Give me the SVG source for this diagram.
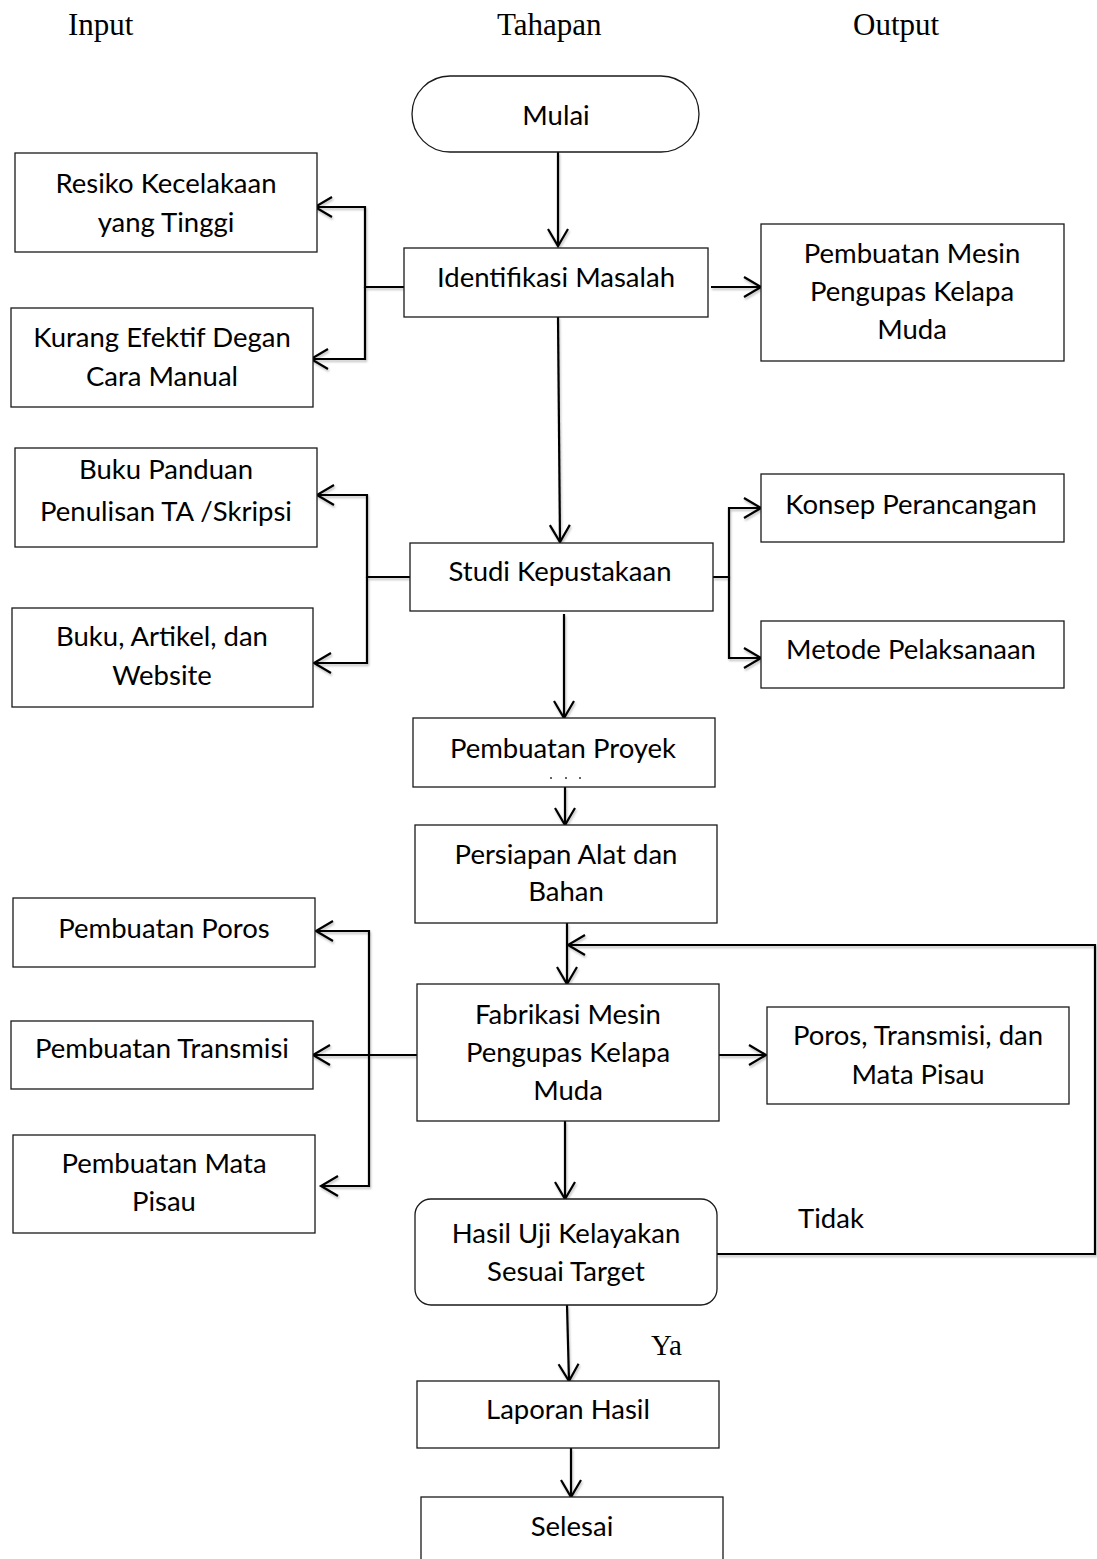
<svg xmlns="http://www.w3.org/2000/svg" width="1097" height="1559" viewBox="0 0 1097 1559">
<defs>
<style>
.box{fill:#fff;stroke:#1a1a1a;stroke-width:1.3}
.t{font-family:Lato,"Open Sans","Liberation Sans",sans-serif;font-size:27.5px;fill:#000;text-anchor:middle}
.h{font-family:"Liberation Serif","Times New Roman",serif;font-size:31px;fill:#000}
.c{fill:none;stroke:#000;stroke-width:2.2;stroke-linejoin:miter}
.a{marker-end:url(#arr)}
</style>
<marker id="arr" markerUnits="userSpaceOnUse" markerWidth="22" markerHeight="24" viewBox="0 0 22 24" refX="19" refY="12" orient="auto">
<path d="M2,2 L19,12 L2,22" fill="none" stroke="#000" stroke-width="2.2"/>
</marker>
<filter id="sh" x="-5%" y="-5%" width="110%" height="110%">
<feDropShadow dx="1" dy="2" stdDeviation="1.2" flood-color="#000" flood-opacity="0.25"/>
</filter>
</defs>
<rect width="1097" height="1559" fill="#fff"/>

<g id="headers">
<text class="h" x="68" y="35">Input</text>
<text class="h" x="497" y="35">Tahapan</text>
<text class="h" x="853" y="35">Output</text>
</g>

<g id="connectors" filter="url(#sh)">
<path class="c a" d="M558,152 L558,246"/>
<path class="c a" d="M711,287 L761,287"/>
<path class="c a" d="M404,287 H365 V207 H315"/>
<path class="c a" d="M365,287 V359 H311"/>
<path class="c a" d="M558,317 L560,542"/>
<path class="c a" d="M410,577 H367 V495 H317"/>
<path class="c a" d="M367,577 V663 H314"/>
<path class="c a" d="M713,577 H729 V508 H761"/>
<path class="c a" d="M729,577 V658 H761"/>
<path class="c a" d="M564,614 L564,718"/>
<path class="c a" d="M565,787 L565,825"/>
<path class="c a" d="M567,923 L567,984"/>
<path class="c a" d="M717,1254 H1095 V945 H568"/>
<path class="c a" d="M719,1055 H766"/>
<path class="c a" d="M417,1055 H313"/>
<path class="c a" d="M369,1055 V931 H316"/>
<path class="c a" d="M369,1055 V1186 H321"/>
<path class="c a" d="M565,1121 L565,1199"/>
<path class="c a" d="M567,1305 L569,1381"/>
<path class="c a" d="M571,1448 L571,1497"/>
</g>

<g id="mulai"><rect class="box" x="412" y="76" width="287" height="76" rx="38" ry="38"/><text class="t" x="556" y="125">Mulai</text></g>
<g id="identifikasi"><rect class="box" x="404" y="248" width="304" height="69"/><text class="t" x="556" y="287">Identifikasi Masalah</text></g>
<g id="out-mesin"><rect class="box" x="761" y="224" width="303" height="137"/><text class="t" x="912" y="263">Pembuatan Mesin</text><text class="t" x="912" y="301">Pengupas Kelapa</text><text class="t" x="912" y="339">Muda</text></g>
<g id="in-resiko"><rect class="box" x="15" y="153" width="302" height="99"/><text class="t" x="166" y="193">Resiko Kecelakaan</text><text class="t" x="166" y="232">yang Tinggi</text></g>
<g id="in-kurang"><rect class="box" x="11" y="308" width="302" height="99"/><text class="t" x="162" y="347">Kurang Efektif Degan</text><text class="t" x="162" y="386">Cara Manual</text></g>
<g id="in-panduan"><rect class="box" x="15" y="448" width="302" height="99"/><text class="t" x="166" y="479">Buku Panduan</text><text class="t" x="166" y="521">Penulisan TA /Skripsi</text></g>
<g id="in-artikel"><rect class="box" x="12" y="608" width="301" height="99"/><text class="t" x="162" y="646">Buku, Artikel, dan</text><text class="t" x="162" y="685">Website</text></g>
<g id="studi"><rect class="box" x="410" y="543" width="303" height="68"/><text class="t" x="560" y="581">Studi Kepustakaan</text></g>
<g id="out-konsep"><rect class="box" x="761" y="474" width="303" height="68"/><text class="t" x="911" y="514">Konsep Perancangan</text></g>
<g id="out-metode"><rect class="box" x="761" y="621" width="303" height="67"/><text class="t" x="911" y="659">Metode Pelaksanaan</text></g>
<g id="proyek"><rect class="box" x="413" y="718" width="302" height="69"/><text class="t" x="563" y="758">Pembuatan Proyek</text><path d="M550,778 h2 M565,778 h2 M579,778 h2" stroke="#333" stroke-width="1.5"/></g>
<g id="persiapan"><rect class="box" x="415" y="825" width="302" height="98"/><text class="t" x="566" y="864">Persiapan Alat dan</text><text class="t" x="566" y="901">Bahan</text></g>
<g id="in-poros"><rect class="box" x="13" y="898" width="302" height="69"/><text class="t" x="164" y="938">Pembuatan Poros</text></g>
<g id="in-transmisi"><rect class="box" x="11" y="1021" width="302" height="68"/><text class="t" x="162" y="1058">Pembuatan Transmisi</text></g>
<g id="in-pisau"><rect class="box" x="13" y="1135" width="302" height="98"/><text class="t" x="164" y="1173">Pembuatan Mata</text><text class="t" x="164" y="1211">Pisau</text></g>
<g id="fabrikasi"><rect class="box" x="417" y="984" width="302" height="137"/><text class="t" x="568" y="1024">Fabrikasi Mesin</text><text class="t" x="568" y="1062">Pengupas Kelapa</text><text class="t" x="568" y="1100">Muda</text></g>
<g id="out-poros"><rect class="box" x="767" y="1007" width="302" height="97"/><text class="t" x="918" y="1045">Poros, Transmisi, dan</text><text class="t" x="918" y="1084">Mata Pisau</text></g>
<g id="hasil"><rect class="box" x="415" y="1199" width="302" height="106" rx="16" ry="16"/><text class="t" x="566" y="1243">Hasil Uji Kelayakan</text><text class="t" x="566" y="1281">Sesuai Target</text></g>
<g id="laporan"><rect class="box" x="417" y="1381" width="302" height="67"/><text class="t" x="568" y="1419">Laporan Hasil</text></g>
<g id="selesai"><rect class="box" x="421" y="1497" width="302" height="72"/><text class="t" x="572" y="1536">Selesai</text></g>

<g id="labels">
<text class="t" x="831" y="1228">Tidak</text>
<text class="h" x="651" y="1355" style="font-size:29px">Ya</text>
</g>
</svg>
